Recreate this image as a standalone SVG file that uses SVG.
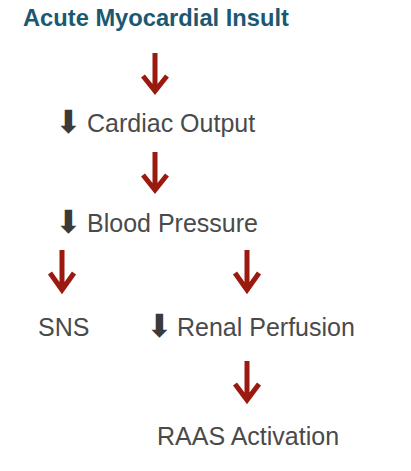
<svg xmlns="http://www.w3.org/2000/svg" width="411" height="471" viewBox="0 0 411 471">
<style>
.t{font-family:"Liberation Sans",Arial,sans-serif;font-size:25px;fill:#4a4a4a}
.title{font-family:"Liberation Sans",Arial,sans-serif;font-size:23.7px;font-weight:bold;fill:#1b5872}
.dn{font-family:"DejaVu Sans",sans-serif;font-size:32px;fill:#3a3a3a}
.a{fill:none;stroke:#9b1a10;stroke-width:5;stroke-linejoin:miter}
</style>
<rect width="411" height="471" fill="#fff"/>
<g id="connectors">
<path class="a" d="M155 53V91M143 76L155 91L167 76"/>
<path class="a" d="M155 152V190M143 175L155 190L167 175"/>
<path class="a" d="M62 250V290M50 273L62 290L74 273"/>
<path class="a" d="M247 250V290M235 273L247 290L259 273"/>
<path class="a" d="M247 361V400M235 384L247 400L259 384"/>
</g>
<g id="n1"><text class="title" x="23" y="26">Acute Myocardial Insult</text></g>
<g id="n2"><text x="55" y="133"><tspan class="dn">⬇</tspan><tspan class="t" x="87" y="132">Cardiac Output</tspan></text></g>
<g id="n3"><text x="55" y="233"><tspan class="dn">⬇</tspan><tspan class="t" x="87" y="232">Blood Pressure</tspan></text></g>
<g id="n4"><text class="t" x="38" y="336">SNS</text></g>
<g id="n5"><text x="146" y="337"><tspan class="dn">⬇</tspan><tspan class="t" x="177" y="336">Renal Perfusion</tspan></text></g>
<g id="n6"><text class="t" x="157" y="445">RAAS Activation</text></g>
</svg>
